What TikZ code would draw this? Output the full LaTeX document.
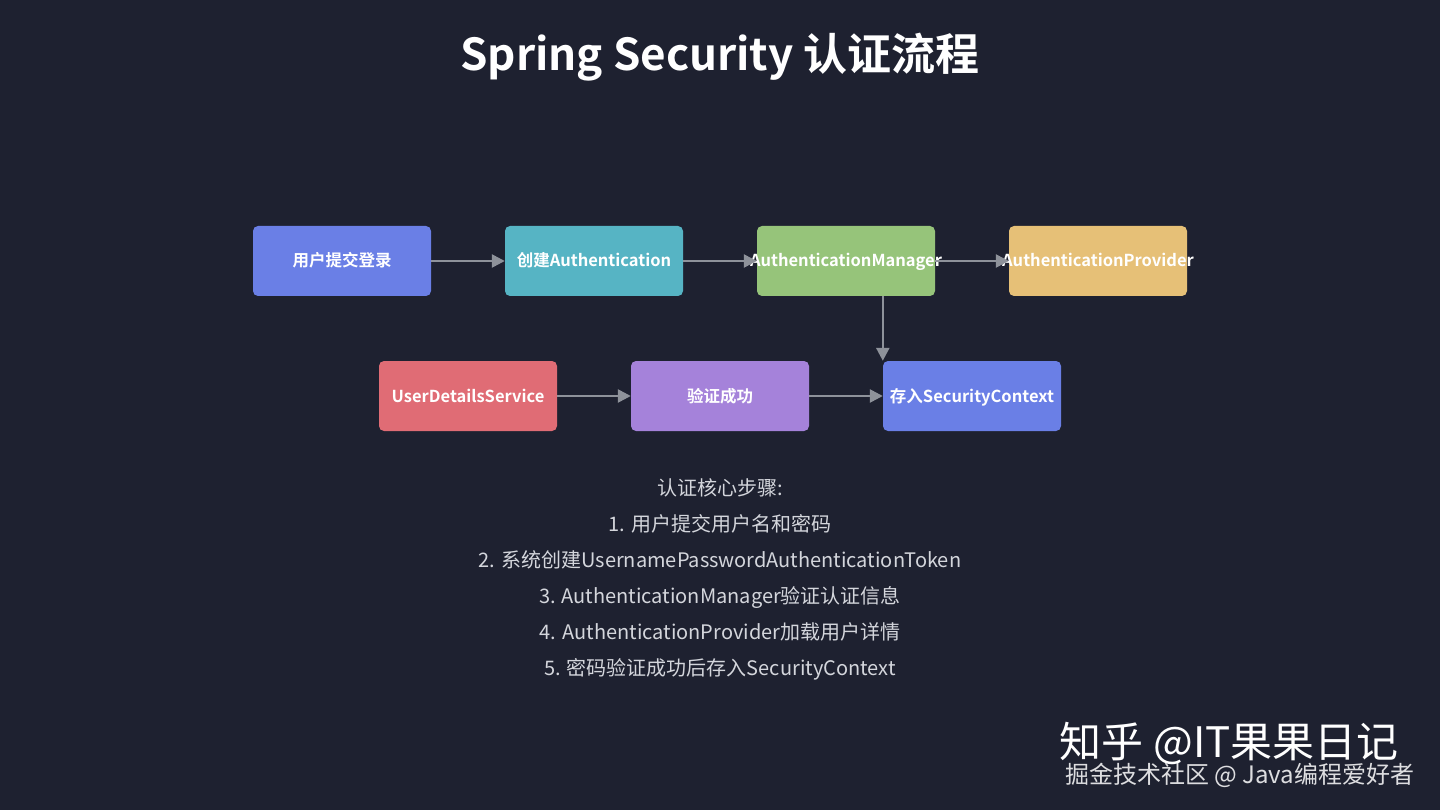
\documentclass[tikz,border=0pt]{standalone}
\usepackage{fontspec}
\setmainfont{Noto Sans CJK SC}
\newfontfamily\cjkb{Noto Sans CJK SC Bold}
\usetikzlibrary{arrows.meta}
\definecolor{bg}{HTML}{1E2130}
\definecolor{cblue}{HTML}{6A7FE6}
\definecolor{cteal}{HTML}{56B4C4}
\definecolor{cgreen}{HTML}{96C47A}
\definecolor{cyellow}{HTML}{E6C077}
\definecolor{cred}{HTML}{E06C75}
\definecolor{cpurple}{HTML}{A582DA}
\definecolor{cline}{HTML}{8E929A}
\definecolor{ctext}{HTML}{D4D6DC}
\newcommand{\fixw}[1]{\makebox[0pt]{#1}}
\tikzset{
  box/.style={rounded corners=5pt, minimum width=178pt, minimum height=70pt, inner sep=0pt, text height=14pt, text depth=2pt, text=white, font=\cjkb\fontsize{16.5}{19}\selectfont},
  conn/.style={draw=cline, line width=2.5pt, -{Triangle[width=13pt,length=13pt]}},
  para/.style={text=ctext, anchor=base, font=\fontsize{20}{24}\selectfont}
}
\begin{document}
\begin{tikzpicture}[x=1pt,y=-1pt]
\fill[bg] (0,0) rectangle (1440,810);
\useasboundingbox (0,0) rectangle (1440,810);
\node[text=white, font=\cjkb\fontsize{44}{50}\selectfont] (title) at (720,57) {Spring Security 认证流程};
% row 1
\node[box, fill=cblue] (b1) at (342,261) {\fixw{用户提交登录}};
\node[box, fill=cteal] (b2) at (594,261) {\fixw{创建Authentication}};
\node[box, fill=cgreen] (b3) at (846,261) {\fixw{AuthenticationManager}};
\node[box, fill=cyellow] (b4) at (1098,261) {\fixw{AuthenticationProvider}};
% row 2
\node[box, fill=cred] (c1) at (468,396) {\fixw{UserDetailsService}};
\node[box, fill=cpurple] (c2) at (720,396) {\fixw{验证成功}};
\node[box, fill=cblue] (c3) at (972,396) {\fixw{存入SecurityContext}};
% connectors
\draw[conn] (b1.east) -- (b2.west);
\draw[conn] (b2.east) -- (b3.west);
\draw[conn] (b3.east) -- (b4.west);
\draw[conn] (b3.south -| c3.west) -- (c3.north west);
\draw[conn] (c1.east) -- (c2.west);
\draw[conn] (c2.east) -- (c3.west);
% text
\node[para] (t0) at (720,495) {认证核心步骤:};
\node[para] (t1) at (720,531) {1. 用户提交用户名和密码};
\node[para] (t2) at (720,567) {2. 系统创建UsernamePasswordAuthenticationToken};
\node[para] (t3) at (720,603) {3. AuthenticationManager验证认证信息};
\node[para] (t4) at (720,639) {4. AuthenticationProvider加载用户详情};
\node[para] (t5) at (720,675) {5. 密码验证成功后存入SecurityContext};
% watermark
\node[text=white, font=\fontsize{42}{46}\selectfont, anchor=east] (w1) at (1402,743) {知乎 @IT果果日记};
\node[text=white, opacity=0.85, font=\fontsize{24}{27}\selectfont, anchor=east] (w2) at (1418,775) {掘金技术社区 @ Java编程爱好者};
\end{tikzpicture}
\end{document}
